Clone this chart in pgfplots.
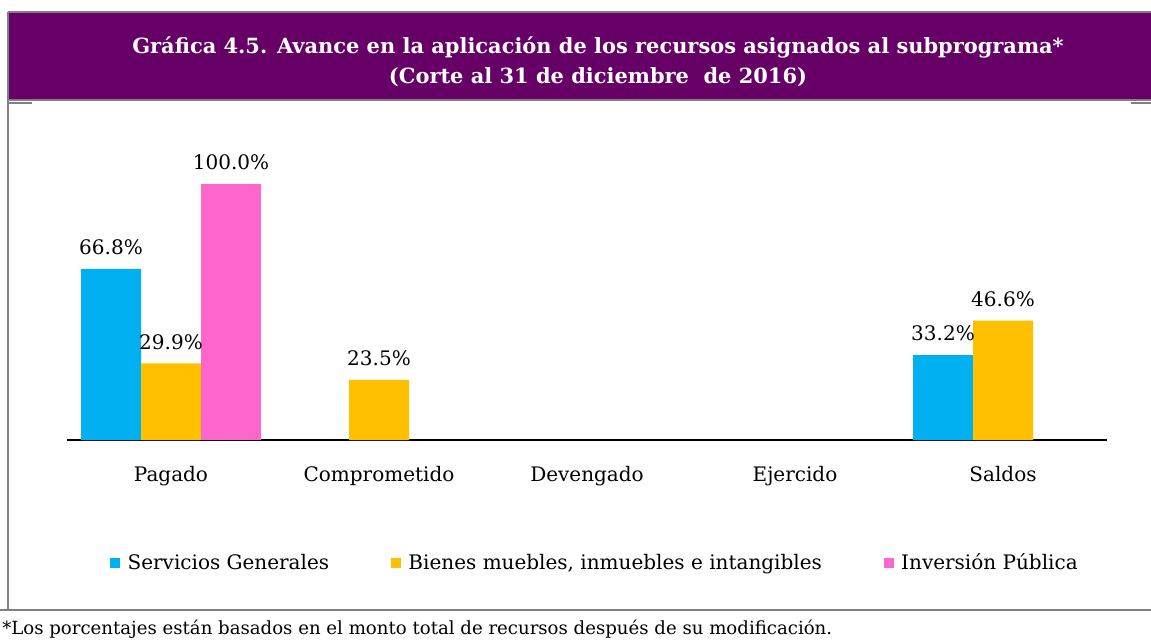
\documentclass[border=0pt]{standalone}
\usepackage{fontspec}
\setmainfont{DejaVu Serif}
\usepackage{pgfplots}
\pgfplotsset{compat=1.18}
\definecolor{titlepurple}{HTML}{660066}
\definecolor{framegray}{HTML}{808080}
\definecolor{sgblue}{HTML}{00B0F0}
\definecolor{bmyellow}{HTML}{FFC000}
\definecolor{ippink}{HTML}{FF66CC}
\newcommand{\lbl}{\fontsize{15}{18}\selectfont}

\begin{document}
\begin{tikzpicture}
% frame and title band, in pixel units of the reference
\begin{scope}[x=0.75pt,y=-0.75pt]
  \fill[titlepurple] (8,12) rectangle (1151,100);
  \draw[framegray,line width=1.5pt] (8,12) -- (1151,12);
  \draw[framegray,line width=1.5pt] (8,100) -- (1151,100);
  \draw[framegray,line width=1pt] (8,103) -- (32,103);
  \draw[framegray,line width=1pt] (1131,103) -- (1151,103);
  \draw[framegray,line width=1.5pt] (8,12) -- (8,610);
  \draw[framegray,line width=1.5pt] (0,610) -- (1151,610);
  \node[text=white, font=\bfseries\fontsize{15.7}{22.5}\selectfont, align=center]
    at (598,62) {Gráfica 4.5. Avance en la aplicación de los recursos asignados al subprograma*\\
                 (Corte al 31 de diciembre\ \ de 2016)};
  \node[anchor=west, inner sep=0pt, font=\fontsize{13.6}{16}\selectfont] at (2,629)
    {*Los porcentajes están basados en el monto total de recursos después de su modificación.};
\end{scope}

\begin{axis}[
  at={(50.25pt,-330pt)}, anchor=south west,
  scale only axis, width=780pt, height=192pt,
  xmin=-0.5, xmax=4.5, ymin=0, ymax=100,
  ybar=0pt, bar width=45pt,
  axis x line=bottom, axis y line=none,
  axis line style={-, black, line width=1pt},
  xtick={0,1,2,3,4},
  xticklabels={Pagado,Comprometido,Devengado,Ejercido,Saldos},
  major tick length=0pt, ytick=\empty,
  xticklabel style={font=\lbl, yshift=-16.5pt},
  /pgf/number format/assume math mode=true,
  nodes near coords={\pgfmathprintnumber[fixed,fixed zerofill,precision=1]{\pgfplotspointmeta}\%},
  nodes near coords style={font=\lbl, text=black, yshift=7pt},
  clip=false,
  legend columns=3,
  legend style={draw=none, at={(0.508,-0.48)}, anchor=center, font=\lbl,
    /tikz/every even column/.append style={column sep=44.5pt}},
  legend image code/.code={\fill[#1] (0pt,-3.75pt) rectangle (7.5pt,3.75pt);
                           \path (11pt,0pt);},
]
\addplot[fill=sgblue, draw=none] coordinates {(0,66.8) (4,33.2)};
\addlegendentry{Servicios Generales}
\addplot[fill=bmyellow, draw=none] coordinates {(0,29.9) (1,23.5) (4,46.6)};
\addlegendentry{Bienes muebles, inmuebles e intangibles}
\addplot[fill=ippink, draw=none] coordinates {(0,100.0)};
\addlegendentry{Inversión Pública}
\end{axis}

\pgfresetboundingbox
\useasboundingbox (0,0) rectangle (863.25pt,-481.5pt);
\end{tikzpicture}
\end{document}
